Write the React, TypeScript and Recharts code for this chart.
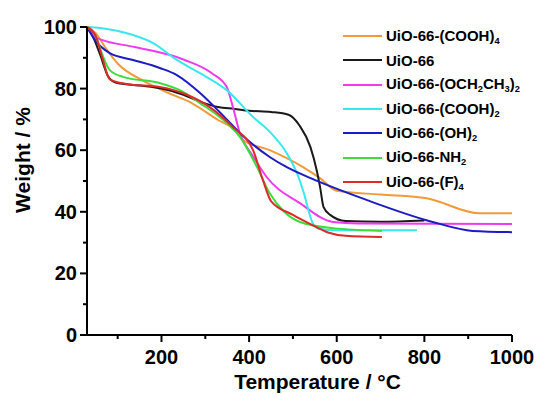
import React from 'react';
import { LineChart, Line, XAxis, YAxis, Legend } from 'recharts';

// ---- data ----
const cooh4Temp = [30, 50, 71, 101, 155, 215, 269, 329, 367, 386, 447, 523, 561, 600, 700, 805, 926, 1000];
const cooh4Weight = [100, 98, 93.5, 88, 82.8, 78.6, 75.3, 69.8, 66.6, 63.3, 60, 54.5, 51, 46.8, 45.6, 44.4, 39.5, 39.5];

const uio66Temp = [30, 40, 60, 78, 95, 150, 200, 250, 283, 329, 367, 400, 450, 490, 515, 540, 555, 562, 570, 585, 620, 700, 800];
const uio66Weight = [100, 98, 91, 84, 82, 81, 80, 78, 76, 74, 73.4, 72.8, 72.4, 71.5, 68, 61, 53, 48, 41.5, 39, 37, 36.8, 37.2];

const och2ch3Temp = [30, 45, 64, 139, 253, 315, 349, 363, 379, 409, 440, 516, 591, 650, 1000];
const och2ch3Weight = [100, 97, 95.8, 93.5, 89.3, 85, 80.5, 74, 65.5, 58, 51.3, 42.8, 36.7, 36.2, 36];

const cooh2Temp = [30, 60, 135, 181, 235, 288, 349, 409, 447, 486, 509, 523, 545, 560, 600, 783];
const cooh2Weight = [100, 99.7, 97.4, 94.8, 89.3, 85, 79.5, 70.8, 66, 59, 52.6, 47, 36.4, 34.5, 34, 34];

const oh2Temp = [30, 48, 82, 135, 196, 235, 288, 349, 379, 447, 486, 539, 669, 819, 910, 1000];
const oh2Weight = [100, 95.8, 91.5, 89.3, 86.7, 84.4, 78.6, 70, 65.6, 57.8, 54.5, 51, 43.8, 36.7, 33.8, 33.4];

const nh2Temp = [30, 50, 65, 82, 112, 196, 242, 288, 349, 379, 418, 447, 480, 516, 591, 703];
const nh2Weight = [100, 97, 91, 86, 83.8, 81.8, 79.5, 75.3, 68.8, 64.3, 54.5, 46, 40, 36.7, 34.7, 33.8];

const f4Temp = [30, 50, 65, 82, 120, 196, 258, 310, 363, 409, 431, 450, 500, 540, 580, 620, 703];
const f4Weight = [100, 97, 90, 83, 81.5, 80.5, 78, 74, 67.5, 60, 50.5, 43.5, 39, 36, 33.3, 32.2, 31.8];

const seriesNames = [
  'UiO-66-(COOH)4',
  'UiO-66',
  'UiO-66-(OCH2CH3)2',
  'UiO-66-(COOH)2',
  'UiO-66-(OH)2',
  'UiO-66-NH2',
  'UiO-66-(F)4',
];
const seriesColors = ['#f4993a', '#1a1a1a', '#ee3bee', '#3ce6ee', '#1c1cc4', '#3ddc3d', '#dd2a2a'];

const xTicks = [100, 200, 300, 400, 500, 600, 700, 800, 900, 1000];
const xMajorTicks = [200, 400, 600, 800, 1000];
const yTicks = [0, 10, 20, 30, 40, 50, 60, 70, 80, 90, 100];
const yMajorTicks = [0, 20, 40, 60, 80, 100];

const build = (t: number[], w: number[]) => t.map((x, i) => ({ x, y: w[i] }));
const seriesData = [
  build(cooh4Temp, cooh4Weight),
  build(uio66Temp, uio66Weight),
  build(och2ch3Temp, och2ch3Weight),
  build(cooh2Temp, cooh2Weight),
  build(oh2Temp, oh2Weight),
  build(nh2Temp, nh2Weight),
  build(f4Temp, f4Weight),
];

const FONT = '"Liberation Sans", Arial, Helvetica, sans-serif';

const renderName = (name: string) => {
  const parts: React.ReactNode[] = [];
  for (let i = 0; i < name.length; i++) {
    const c = name[i];
    const prev = i > 0 ? name[i - 1] : '';
    if (/[0-9]/.test(c) && (prev === 'H' || prev === ')')) {
      parts.push(
        <sub key={i} style={{ fontSize: '0.62em', verticalAlign: '-0.3em' }}>
          {c}
        </sub>
      );
    } else {
      parts.push(<span key={i}>{c}</span>);
    }
  }
  return parts;
};

const XTick = (props: any) => {
  const { x, y, payload } = props;
  const major = xMajorTicks.includes(payload.value);
  return (
    <g>
      <line x1={x} x2={x} y1={y} y2={y + (major ? 7 : 4)} stroke="#000" strokeWidth={2} />
      {major && (
        <text x={x} y={y + 29} textAnchor="middle" fontSize={20} fontWeight="bold" fontFamily={FONT} fill="#000">
          {payload.value}
        </text>
      )}
    </g>
  );
};

const YTick = (props: any) => {
  const { x, y, payload } = props;
  const major = yMajorTicks.includes(payload.value);
  return (
    <g>
      <line x1={x - (major ? 7 : 4)} x2={x} y1={y} y2={y} stroke="#000" strokeWidth={2} />
      {major && (
        <text x={x - 10} y={y} textAnchor="end" dominantBaseline="central" fontSize={20} fontWeight="bold" fontFamily={FONT} fill="#000">
          {payload.value}
        </text>
      )}
    </g>
  );
};

const LegendContent = (props: any) => {
  const payload = (props.payload || []).slice().sort(
    (a: any, b: any) => seriesNames.indexOf(a.value) - seriesNames.indexOf(b.value)
  );
  return (
    <div style={{ fontFamily: FONT, fontWeight: 'bold', fontSize: 15, color: '#000' }}>
      {payload.map((p: any) => (
        <div key={p.value} style={{ height: 24.3, display: 'flex', alignItems: 'center', whiteSpace: 'nowrap' }}>
          <span style={{ display: 'inline-block', width: 39, height: 2, background: p.color, marginRight: 4 }} />
          <span>{renderName(p.value)}</span>
        </div>
      ))}
    </div>
  );
};

export default function App() {
  return (
    <div style={{ position: 'absolute', left: 0, top: 0, width: 537, height: 394, background: '#fff' }}>
      <LineChart width={537} height={394} margin={{ top: 27, right: 25, bottom: 0, left: 0 }}>
        <XAxis
          dataKey="x"
          type="number"
          domain={[30, 1000]}
          allowDataOverflow
          ticks={xTicks}
          interval={0}
          height={59}
          tickSize={0}
          tickMargin={0}
          tick={<XTick />}
          axisLine={{ stroke: '#000', strokeWidth: 2 }}
          tickLine={false}
          label={{
            content: (p: any) => {
              const vb = p.viewBox;
              return (
                <text x={vb.x + vb.width / 2 + 18} y={vb.y + vb.height - 5} textAnchor="middle" fontSize={21} fontWeight="bold" fontFamily={FONT} fill="#000">
                  Temperature / °C
                </text>
              );
            },
          }}
        />
        <YAxis
          type="number"
          domain={[0, 100]}
          ticks={yTicks}
          interval={0}
          width={87}
          tickSize={0}
          tickMargin={0}
          tick={<YTick />}
          axisLine={{ stroke: '#000', strokeWidth: 2 }}
          tickLine={false}
          label={{
            content: (p: any) => {
              const vb = p.viewBox;
              const cx = 22;
              const cy = vb.y + vb.height / 2 - 21;
              return (
                <text x={cx} y={cy} transform={`rotate(-90 ${cx} ${cy})`} textAnchor="middle" dominantBaseline="central" fontSize={21} fontWeight="bold" fontFamily={FONT} fill="#000">
                  Weight / %
                </text>
              );
            },
          }}
        />
        <Legend
          layout="vertical"
          align="center"
          verticalAlign="middle"
          wrapperStyle={{ position: 'absolute', left: 343, top: 24, width: 194 }}
          content={<LegendContent />}
        />
        {seriesData.map((d, i) => (
          <Line
            key={seriesNames[i]}
            data={d}
            dataKey="y"
            name={seriesNames[i]}
            type="monotone"
            stroke={seriesColors[i]}
            strokeWidth={2}
            dot={false}
            activeDot={false}
            isAnimationActive={false}
          />
        ))}
      </LineChart>
    </div>
  );
}
